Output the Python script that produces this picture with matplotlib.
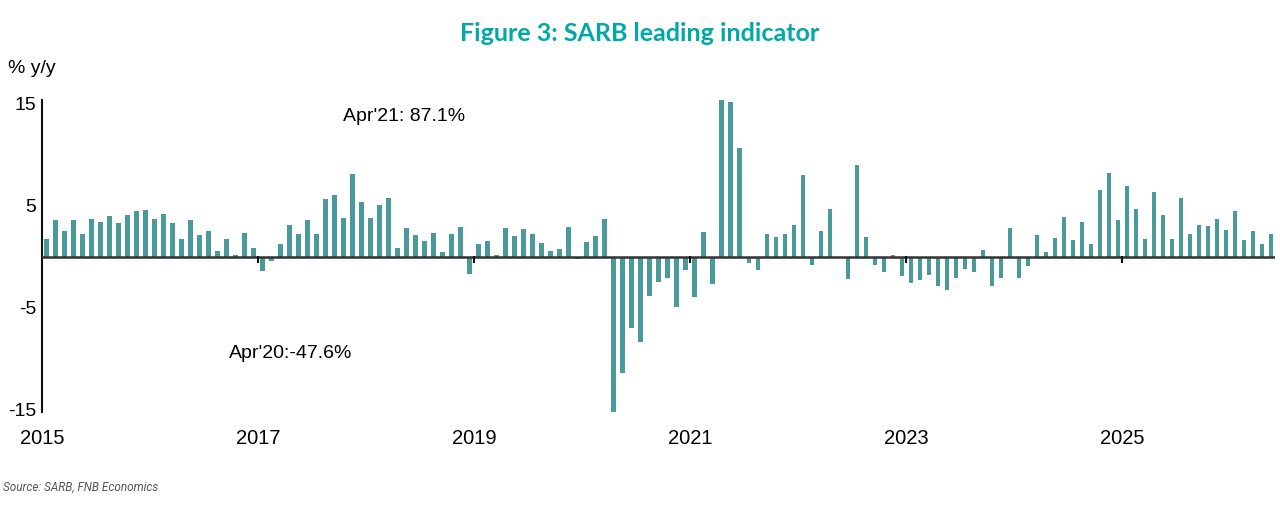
import numpy as np
import pandas as pd
import matplotlib
matplotlib.use("Agg")
import matplotlib.pyplot as plt

# SARB leading indicator, % y/y, monthly from Jan 2015
values = [
    1.7, 3.6, 2.5, 3.6, 2.2, 3.7, 3.4, 4.0, 3.3, 4.1, 4.5, 4.6,
    3.7, 4.2, 3.3, 1.7, 3.6, 2.1, 2.5, 0.6, 1.7, 0.2, 2.3, 0.9,
    -1.4, -0.4, 1.2, 3.1, 2.2, 3.6, 2.2, 5.7, 6.1, 3.8, 8.1, 5.4,
    3.8, 5.1, 5.8, 0.9, 2.8, 2.1, 1.5, 2.3, 0.5, 2.2, 2.9, -1.7,
    1.2, 1.5, 0.2, 2.8, 2.0, 2.7, 2.2, 1.3, 0.6, 0.8, 2.9, -0.2,
    1.4, 2.0, 3.7, -47.6, -11.4, -7.0, -8.4, -3.9, -2.5, -2.1, -4.9, -1.3,
    -4.0, 2.4, -2.7, 87.1, 15.2, 10.7, -0.6, -1.3, 2.2, 1.9, 2.2, 3.1,
    8.0, -0.8, 2.5, 4.7, -0.1, -2.2, 9.0, 1.9, -0.8, -1.5, 0.2, -1.9,
    -2.6, -2.3, -1.8, -2.9, -3.3, -2.1, -1.2, -1.5, 0.7, -2.9, -2.1, 2.8,
    -2.1, -0.9, 2.1, 0.5, 1.8, 3.9, 1.6, 3.4, 1.2, 6.5, 8.2, 3.6,
    6.9, 4.7, 1.7, 6.3, 4.1, 1.7, 5.8, 2.2, 3.1, 3.0, 3.7, 2.6,
    4.5, 1.6, 2.5, 1.2, 2.2,
]
months = pd.date_range("2015-01-01", periods=len(values), freq="MS")
year_labels = ["2015", "2017", "2019", "2021", "2023", "2025"]
yticks = [-15, -5, 5, 15]

teal_bar = "#4a9a9b"
teal_title = "#00a8a6"

plt.rcParams["font.family"] = ["Liberation Sans", "DejaVu Sans"]

fig = plt.figure(figsize=(12.8, 5.2), dpi=100)
ax = fig.add_axes([0.0328, 0.2083, 0.9634, 0.6000])

x = np.arange(len(months)) + 0.5
ax.bar(x, values, width=0.46, color=teal_bar, edgecolor="none", zorder=2)

ax.set_xlim(0, len(months))
ax.set_ylim(-15.2, 15.4)

# zero line with small year ticks
ax.axhline(0, color="#333333", lw=1.8, zorder=3)
tick_pos = [i for i, m in enumerate(months) if m.month == 1 and (m.year - 2015) % 2 == 0]
for t in tick_pos[1:]:
    ax.plot([t, t], [0, -0.55], color="#111111", lw=1.5, zorder=3, clip_on=False)

ax.set_xticks([])
ax.set_yticks(yticks)
ax.set_yticklabels([str(v) for v in yticks], fontsize=14)
ax.tick_params(axis="y", length=0, pad=4)

for sp in ["top", "right", "bottom"]:
    ax.spines[sp].set_visible(False)
ax.spines["left"].set_color("#111111")
ax.spines["left"].set_linewidth(1.5)

for t, lab in zip(tick_pos, year_labels):
    ax.text(t, -0.085, lab, transform=ax.get_xaxis_transform(), ha="center", va="center", fontsize=14.5)

ax.text(0.244, 0.946, "Apr'21: 87.1%", transform=ax.transAxes, ha="left", va="center", fontsize=14)
ax.text(0.152, 0.185, "Apr'20:-47.6%", transform=ax.transAxes, ha="left", va="center", fontsize=14)

fig.text(0.006, 0.868, "% y/y", ha="left", va="center", fontsize=14)
fig.text(0.5, 0.935, "Figure 3: SARB leading indicator", ha="center", va="center",
         fontsize=18, fontweight="bold", color=teal_title, family=["Lato", "DejaVu Sans"])
fig.text(0.002, 0.063, "Source: SARB, FNB Economics", ha="left", va="center",
         fontsize=8.5, style="italic", color="#555555", family=["Roboto", "DejaVu Sans"])

fig.savefig("out.png", dpi=100)
